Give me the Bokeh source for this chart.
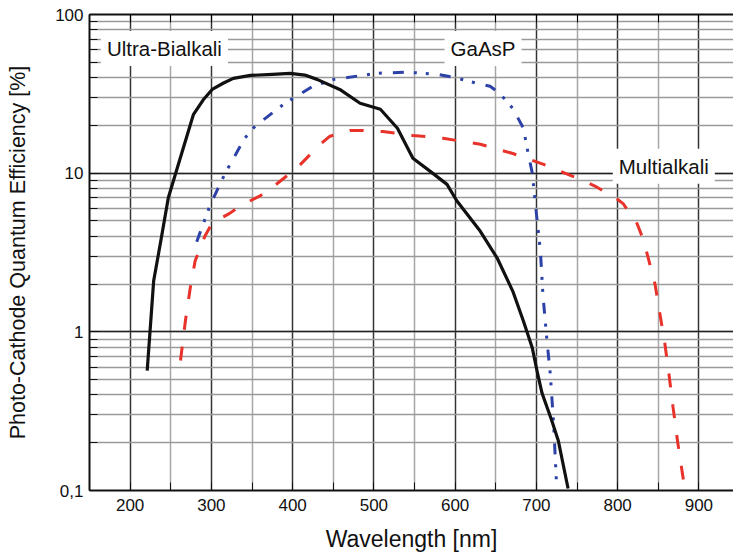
from bokeh.plotting import figure
from bokeh.models import (Label, LinearAxis, SingleIntervalTicker, CustomJSTickFormatter,
                          LogTicker, Range1d)
from bokeh.embed import file_html
from bokeh.resources import INLINE

# Ultra-Bialkali (black solid)
ub_nm = [221, 229, 238, 247, 262, 278, 290, 301, 315, 327, 348, 375, 397, 415, 430,
         458, 483, 508, 529, 548, 569, 590, 602, 631, 652, 671, 684, 695, 701, 707,
         719, 727, 739]
ub_qe = [0.57, 2.1, 3.8, 7.0, 12.6, 23.5, 29.0, 33.7, 37.0, 39.6, 41.3, 42.0, 42.6, 41.5, 39.0,
         33.7, 27.6, 25.3, 19.2, 12.4, 10.3, 8.5, 6.7, 4.3, 2.9, 1.8, 1.17, 0.79, 0.56, 0.41,
         0.275, 0.206, 0.103]

# GaAsP (blue dash-dot-dot)
ga_nm = [282, 298, 308, 317, 341, 354, 389, 425, 451, 504, 541, 578, 598, 627, 643, 655,
         671, 684, 690, 695, 698, 701, 705, 708, 713, 717, 721, 725]
ga_qe = [3.7, 6.2, 8.0, 10.0, 16.6, 19.8, 27.2, 35.3, 39.0, 42.6, 43.3, 42.0, 40.2, 36.8, 35.3, 31.8,
         25.6, 19.2, 13.2, 10.0, 7.0, 5.0, 3.2, 1.73, 0.88, 0.55, 0.275, 0.105]

# Multialkali (red dashed)
ma_nm = [262, 268, 274, 280, 292, 301, 323, 335, 360, 372, 397, 410, 434, 446, 471, 483,
         511, 548, 585, 631, 671, 708, 750, 772, 799, 807, 824, 830, 836, 846, 852, 858,
         863, 868, 874, 881]
ma_qe = [0.66, 1.17, 1.89, 2.8, 4.0, 4.85, 5.6, 6.2, 7.2, 7.9, 10.0, 11.4, 15.2, 17.1, 18.6, 18.6,
         18.3, 17.3, 16.6, 15.2, 13.3, 11.4, 9.3, 8.3, 6.9, 6.4, 4.8, 4.0, 3.14, 2.0, 1.3, 0.85,
         0.55, 0.34, 0.2, 0.116]

x_ticks = [200, 300, 400, 500, 600, 700, 800, 900]
y_ticks = [0.1, 1, 10, 100]
series_names = ["Ultra-Bialkali", "GaAsP", "Multialkali"]
x_title = "Wavelength [nm]"
y_title = "Photo-Cathode Quantum Efficiency [%]"

FONT = "Liberation Sans"

p = figure(width=733, height=557, x_range=Range1d(150, 942.6), y_range=Range1d(0.1, 100),
           y_axis_type="log", output_backend="svg", toolbar_location=None,
           min_border_left=89, min_border_right=0, min_border_top=14, min_border_bottom=67)
p.outline_line_color = None
p.background_fill_color = "white"
p.border_fill_color = "white"

# x axis
p.xaxis.ticker = SingleIntervalTicker(interval=100, num_minor_ticks=2)
p.xaxis.major_tick_in = 8
p.xaxis.major_tick_out = 0
p.xaxis.minor_tick_in = 8
p.xaxis.minor_tick_out = 0
p.xaxis.axis_line_width = 2
p.xaxis.axis_line_color = "#111111"
p.xaxis.major_tick_line_color = "#111111"
p.xaxis.minor_tick_line_color = "#111111"
p.xaxis.major_label_text_font = FONT
p.xaxis.major_label_text_font_size = "17px"
p.xaxis.major_label_text_color = "#111111"
p.xaxis.major_label_standoff = 8
p.xaxis.axis_label = x_title
p.xaxis.axis_label_text_font = FONT
p.xaxis.axis_label_text_font_style = "normal"
p.xaxis.axis_label_text_font_size = "23px"
p.xaxis.axis_label_text_color = "#111111"
p.xaxis.axis_label_standoff = 12

# y axis
p.yaxis.ticker = LogTicker(num_minor_ticks=10)
p.yaxis.formatter = CustomJSTickFormatter(code="""
    if (tick < 0.5) { return "0,1"; }
    return Math.round(tick).toString();
""")
p.yaxis.major_tick_in = 10
p.yaxis.major_tick_out = 0
p.yaxis.minor_tick_in = 8
p.yaxis.minor_tick_out = 0
p.yaxis.axis_line_width = 2
p.yaxis.axis_line_color = "#111111"
p.yaxis.major_tick_line_color = "#111111"
p.yaxis.minor_tick_line_color = "#111111"
p.yaxis.major_label_text_font = FONT
p.yaxis.major_label_text_font_size = "17px"
p.yaxis.major_label_text_color = "#111111"
p.yaxis.major_label_standoff = 6
p.yaxis.axis_label = y_title
p.yaxis.axis_label_text_font = FONT
p.yaxis.axis_label_text_font_style = "normal"
p.yaxis.axis_label_text_font_size = "21.5px"
p.yaxis.axis_label_text_color = "#111111"
p.yaxis.axis_label_standoff = 22

# top axis (border with inward ticks)
top = LinearAxis(ticker=SingleIntervalTicker(interval=100, num_minor_ticks=2),
                 formatter=CustomJSTickFormatter(code="return '';"))
top.major_tick_in = 8
top.major_tick_out = 0
top.minor_tick_in = 8
top.minor_tick_out = 0
top.major_label_text_font_size = "0px"
top.major_label_standoff = 0
top.axis_line_width = 2
top.axis_line_color = "#111111"
p.add_layout(top, "above")

# grids
p.xgrid.ticker = SingleIntervalTicker(interval=100, num_minor_ticks=2)
p.xgrid.grid_line_color = "#333333"
p.xgrid.grid_line_width = 1.3
p.xgrid.minor_grid_line_color = "#a6a6a6"
p.xgrid.minor_grid_line_width = 1.5
p.ygrid.grid_line_color = "#222222"
p.ygrid.grid_line_width = 1.3
p.ygrid.minor_grid_line_color = "#9a9a9a"
p.ygrid.minor_grid_line_width = 1.5

# curves
p.line(ma_nm, ma_qe, line_color="#e8322a", line_width=3, line_dash="14 17")
p.line(ga_nm, ga_qe, line_color="#2d42a8", line_width=3, line_dash="11 10 3 9 3 11")
p.line(ub_nm, ub_qe, line_color="#111111", line_width=3.2, line_join="round")

# series labels
label_pos = [(164.0, 61.0), (587.0, 61.0), (794.0, 11.07)]
for name, (lx, ly) in zip(series_names, label_pos):
    p.add_layout(Label(x=lx, y=ly, text=name, text_align="left", text_baseline="middle",
                       text_font=FONT, text_font_size="20.5px", text_color="#111111",
                       background_fill_color="white", padding=6))

open("out.html", "w").write(file_html(p, INLINE))
